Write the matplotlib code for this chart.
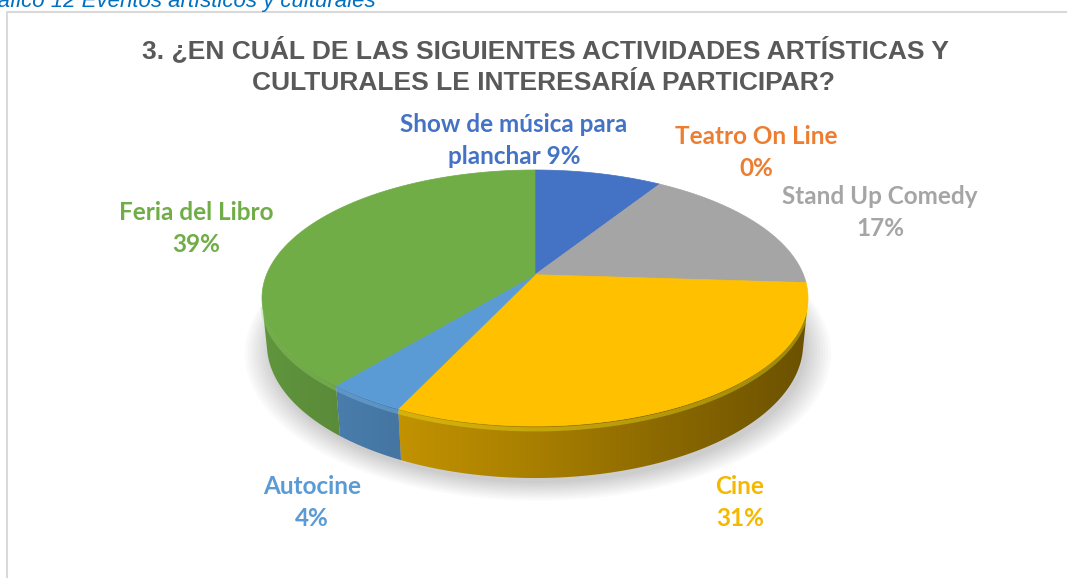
import numpy as np
import matplotlib.pyplot as plt
from matplotlib.patches import Polygon
from matplotlib.colors import to_rgb

# data
labels = ["Show de música para\nplanchar", "Teatro On Line", "Stand Up Comedy",
          "Cine", "Autocine", "Feria del Libro"]
values = [9, 0, 17, 31, 4, 39]
colors = ["#4472C4", "#ED7D31", "#A5A5A5", "#FFC000", "#5B9BD5", "#70AD47"]
label_colors = ["#4472C4", "#ED7D31", "#A5A5A5", "#F5B800", "#5B9BD5", "#70AD47"]
label_pos = [(514, 141), (756, 153), (880, 212), (740, 502), (312, 502), (196, 229)]

title_lines = ["3. ¿EN CUÁL DE LAS SIGUIENTES ACTIVIDADES ARTÍSTICAS Y",
               "CULTURALES LE INTERESARÍA PARTICIPAR?"]

W, H = 1067, 578
fig = plt.figure(figsize=(W / 100, H / 100), dpi=100)
ax = fig.add_axes([0, 0, 1, 1])
ax.set_xlim(0, W)
ax.set_ylim(H, 0)
ax.axis("off")

# simple perspective camera looking down on a unit disc
elev = np.radians(27)
dist = 4.9
thick = 0.19
fwd = np.array([0, -np.sin(elev), np.cos(elev)])
up = np.array([0, np.cos(elev), np.sin(elev)])
cam = -dist * fwd


def project(phi, y=0.0, r=1.0):
    phi = np.atleast_1d(phi)
    P = np.stack([r * np.sin(phi), np.full_like(phi, y), r * np.cos(phi)], axis=1)
    v = P - cam
    zc = v @ fwd
    return v[:, 0] / zc, (v @ up) / zc


# fit the top rim onto the target box in pixels
rx, ry = project(np.linspace(0, 2 * np.pi, 721))
box = (262, 808, 170, 426)
sx = (box[1] - box[0]) / (rx.max() - rx.min())
sy = (box[3] - box[2]) / (ry.max() - ry.min())


def to_px(x, y):
    return box[0] + (x - rx.min()) * sx, box[2] + (ry.max() - y) * sy


def pt(phi, y=0.0, r=1.0):
    px, py = to_px(*project(phi, y, r))
    return np.column_stack([px, py])


# soft shadow under the pie
for k in range(10):
    s = pt(np.linspace(0, 2 * np.pi, 200), -thick, 1.0 + 0.01 * k)
    s[:, 0] += 3
    s[:, 1] += 5
    ax.add_patch(Polygon(s, closed=True, fc="#000000", ec="none", alpha=0.02, zorder=1))

frac = np.array(values) / sum(values)
edges = np.concatenate([[0], np.cumsum(frac)]) * 2 * np.pi

# sides (only the front part is visible), shaded darker towards the right
limit = np.arccos(-1 / (dist * np.cos(elev)))
xs = np.linspace(box[0] - 5, box[1] + 5, 400)
shade = np.interp(xs, [box[0], (box[0] + box[1]) / 2, box[1]], [0.86, 0.66, 0.42])
for i, c in enumerate(colors):
    a0, a1 = max(edges[i], limit), min(edges[i + 1], 2 * np.pi - limit)
    if a1 <= a0:
        continue
    arc = np.linspace(a0, a1, 120)
    side = np.vstack([pt(arc), pt(arc[::-1], -thick)])
    poly = Polygon(side, closed=True, fc="none", ec="none")
    ax.add_patch(poly)
    base = np.array(to_rgb(c))
    grad = np.clip(shade[None, :, None] * base[None, None, :], 0, 1)
    im = ax.imshow(grad, extent=(xs[0], xs[-1], 500, 150), aspect="auto",
                   interpolation="bilinear", zorder=2)
    im.set_clip_path(poly)
    # soft bevel highlight just under the top edge
    hl = pt(np.linspace(a0, a1, 60), -0.012)
    ax.plot(hl[:, 0], hl[:, 1], color=np.clip(base * 1.1 + 0.12, 0, 1), lw=3,
            alpha=0.35, zorder=3, solid_capstyle="butt")

# top face
apex = pt([0.0], 0.0, 0.0)
for i, c in enumerate(colors):
    if values[i] == 0:
        continue
    arc = pt(np.linspace(edges[i], edges[i + 1], 200))
    ax.add_patch(Polygon(np.vstack([apex, arc]), closed=True, fc=c, ec=c, lw=0.5, zorder=4))

# labels, one text per line
for lab, v, col, (x, y) in zip(labels, values, label_colors, label_pos):
    txt = f"{lab} {v}%" if "\n" in lab else f"{lab}\n{v}%"
    for j, line in enumerate(txt.split("\n")):
        ax.text(x, y - 16 + 32 * j, line, ha="center", va="center", color=col,
                fontsize=17.5, fontweight="bold", family="Lato")

ax.text(545, 50, title_lines[0], ha="center", va="center", color="#595959",
        fontsize=19, fontweight="bold", family="Liberation Sans")
ax.text(543, 83, title_lines[1], ha="center", va="center", color="#595959",
        fontsize=19, fontweight="bold", family="Liberation Sans")

# caption cut off at the top, and the chart frame
ax.text(376, 7, "Gráfico 12 Eventos artísticos y culturales", ha="right", va="baseline",
        color="#0070C0", fontsize=16, style="italic", family="Liberation Sans")
ax.plot([7, 7, W], [H, 12, 12], color="#D9D9D9", lw=1.5)

fig.savefig("out.png", dpi=100)
